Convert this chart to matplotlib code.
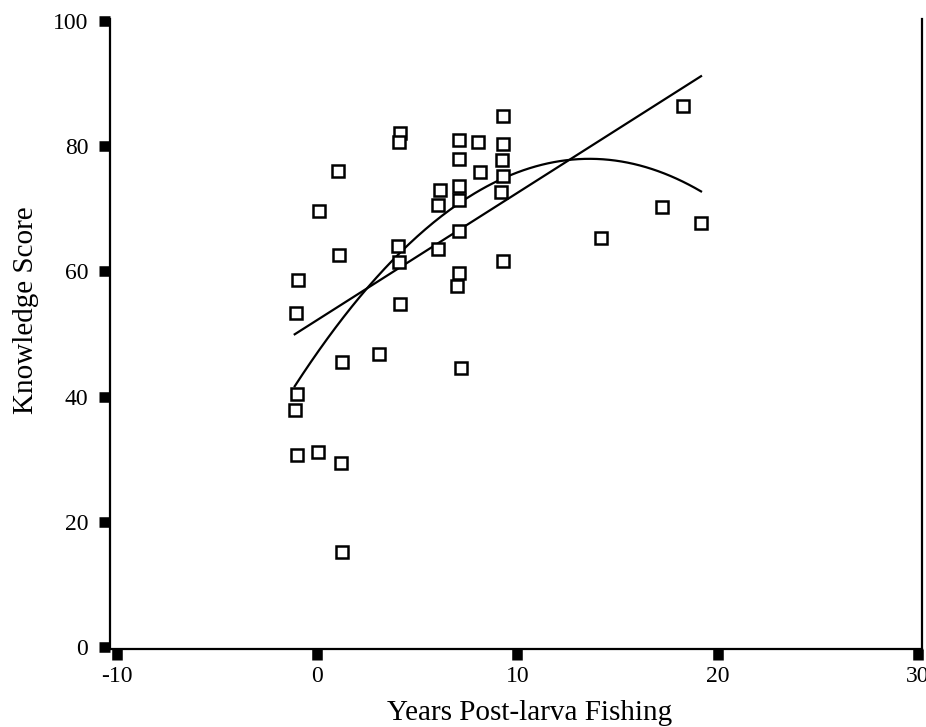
import numpy as np
import matplotlib
matplotlib.use("Agg")
import matplotlib.pyplot as plt

# years of post-larva fishing (x) and knowledge score (y)
years = [9.28, 4.13, 4.09, 7.07, 8.03, 9.31, 7.07, 9.25, 1.05, 8.12,
         9.31, 7.08, 6.12, 7.08, 6.04, 9.20, 0.12, 7.07, 4.04, 6.04,
         4.09, 1.10, 9.28, 7.07, 7.00, -0.93, 4.13, -1.07, 1.25, 3.10,
         7.19, -1.02, -1.11, -1.02, 0.04, 1.19, 1.25, 18.29, 17.22, 19.17,
         14.18]
scores = [84.9, 82.1, 80.7, 81.0, 80.7, 80.4, 78.0, 77.8, 76.1, 75.9,
          75.2, 73.6, 73.0, 71.5, 70.6, 72.7, 69.6, 66.5, 64.0, 63.6,
          61.5, 62.7, 61.6, 59.7, 57.6, 58.6, 54.8, 53.4, 45.5, 46.8,
          44.5, 40.4, 37.8, 30.7, 31.1, 29.4, 15.1, 86.5, 70.3, 67.7,
          65.3]

# fitted curves as drawn in the chart (coefficients)
linear_coef = [2.035, 52.21]
quadratic_coef = [-0.168, 4.570, 46.93]

x_ticks = [-10, 0, 10, 20, 30]
y_ticks = [0, 20, 40, 60, 80, 100]

plt.rcParams["font.family"] = ["Liberation Serif", "DejaVu Serif"]
plt.rcParams["axes.unicode_minus"] = False

fig = plt.figure(figsize=(9.26, 7.27), dpi=100)
ax = fig.add_axes([0.1188, 0.1073, 0.8769, 0.8666])

x = np.array(years)
y = np.array(scores)

xs = np.linspace(x.min(), x.max(), 200)
ax.plot(xs, np.polyval(linear_coef, xs), color="black", lw=1.6)
ax.plot(xs, np.polyval(quadratic_coef, xs), color="black", lw=1.6)

ax.plot(x, y, linestyle="none", marker="s", markersize=8.5,
        markerfacecolor="white", markeredgecolor="black", markeredgewidth=1.8)

ax.set_xlim(-10.33, 30.2)
ax.set_ylim(-0.37, 100.37)
ax.set_xticks(x_ticks)
ax.set_xticklabels([str(t) for t in x_ticks])
ax.set_yticks(y_ticks)
ax.set_yticklabels([str(t) for t in y_ticks])

ax.tick_params(axis="both", direction="out", length=7.6, width=7.6,
               labelsize=17, color="black")
ax.tick_params(axis="y", pad=8)
ax.tick_params(axis="x", pad=5)

for side in ["left", "bottom", "right"]:
    ax.spines[side].set_linewidth(1.6)
ax.spines["top"].set_visible(False)

ax.set_xlabel("Years Post-larva Fishing", fontsize=21)
ax.set_ylabel("Knowledge Score", fontsize=21)
ax.xaxis.set_label_coords(0.517, -0.081)
ax.yaxis.set_label_coords(-0.0875, 0.538)

fig.savefig("out.png", dpi=100)
